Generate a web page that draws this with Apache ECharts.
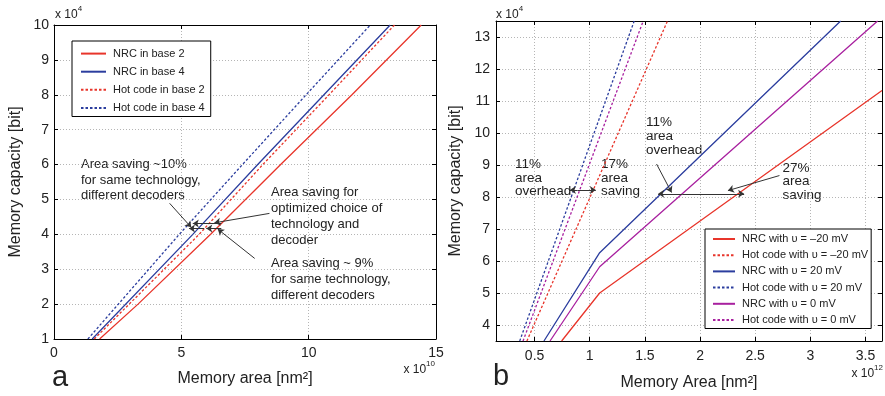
<!DOCTYPE html>
<html>
<head>
<meta charset="utf-8">
<script src="https://cdn.jsdelivr.net/npm/echarts@6/dist/echarts.min.js"></script>
<style>
html,body{margin:0;padding:0;background:#fff;}
#chart{width:885px;height:396px;}
</style>
</head>
<body>
<div id="chart"></div>
<script>
// ---------- Data: panel a ----------
const leftNames = ['NRC in base 2', 'NRC in base 4', 'Hot code in base 2', 'Hot code in base 4'];
const nrcBase2 = [[1.79, 1], [3.3, 2], [6.15, 4], [8.9, 6], [11.7, 8], [14.42, 10]];
const nrcBase4 = [[1.5, 1], [5.45, 4], [8.0, 6], [10.6, 8], [13.2, 10]];
const hotBase2 = [[1.58, 1], [5.7, 4], [8.2, 6], [10.8, 8], [13.37, 10]];
const hotBase4 = [[1.33, 1], [4.92, 4], [7.4, 6], [9.9, 8], [12.42, 10]];
const leftXTicks = [0, 5, 10, 15];
const leftYTicks = [1, 2, 3, 4, 5, 6, 7, 8, 9, 10];

// ---------- Data: panel b ----------
const rightNames = ['NRC with \u03c5 = \u201320 mV', 'Hot code with \u03c5 = \u201320 mV',
  'NRC with \u03c5 = 20 mV', 'Hot code with \u03c5 = 20 mV',
  'NRC with \u03c5 = 0 mV', 'Hot code with \u03c5 = 0 mV'];
const nrcM20 = [[0.745, 3.5], [1.09, 5.0], [3.65, 11.33]];
const hotM20 = [[0.43, 3.5], [1.705, 13.5]];
const nrcP20 = [[0.585, 3.5], [1.09, 6.26], [3.275, 13.5]];
const hotP20 = [[0.365, 3.5], [1.403, 13.5]];
const nrc0 = [[0.64, 3.5], [1.09, 5.82], [3.61, 13.5]];
const hot0 = [[0.395, 3.5], [1.485, 13.5]];
const rightXRange = [0.15, 3.65];
const rightYRange = [3.5, 13.5];

// ---------- Annotation arrows (data coordinates) ----------
const leftArrows = [
  [[6.57, 4.31], [5.45, 4.31]],
  [[5.9, 4.17], [5.3, 4.17]],
  [[6.57, 4.17], [5.98, 4.17]],
  [[4.54, 4.89], [5.39, 4.2]],
  [[8.46, 4.6], [6.3, 4.33]],
  [[7.88, 3.31], [6.43, 4.15]]
];
const rightArrows = [
  [[0.89, 8.22], [0.82, 8.22]],
  [[0.89, 8.22], [1.055, 8.22]],
  [[1.84, 8.1], [1.62, 8.1]],
  [[1.84, 8.1], [2.40, 8.1]],
  [[1.606, 9.03], [1.742, 8.14]],
  [[2.72, 8.67], [2.253, 8.2]]
];

const FONT = '"Liberation Sans", Arial, Helvetica, sans-serif';
const RED = '#e8352b', BLUE = '#2b3d9e', MAG = '#a8209f';
const TXT = '#222';

const chart = echarts.init(document.getElementById('chart'), null, {renderer: 'canvas'});

function lineSeries(name, data, color, dashed, gi) {
  return {
    name: name, type: 'line', data: data, xAxisIndex: gi * 2, yAxisIndex: gi * 2,
    symbol: 'none', showSymbol: false, silent: true, animation: false,
    lineStyle: {color: color, width: 1.3, type: dashed ? [2.5, 2] : 'solid'},
    itemStyle: {color: color}
  };
}
function arrowSeries(arrows, gi) {
  return {
    type: 'line', data: [], xAxisIndex: gi * 2, yAxisIndex: gi * 2, silent: true, animation: false,
    markLine: {
      silent: true, animation: false, symbol: ['none', 'arrow'], symbolSize: 6,
      label: {show: false}, lineStyle: {color: '#333', width: 1, type: 'solid'},
      emphasis: {disabled: true},
      data: arrows.map(a => [{coord: a[0]}, {coord: a[1]}])
    }
  };
}
const gridLine = {show: true, lineStyle: {color: '#b5b5b5', type: [1, 2], width: 1}};
const axLine = {show: true, onZero: false, lineStyle: {color: '#000', width: 1}};
const tick = {show: true, inside: true, length: 4, lineStyle: {color: '#000'}};
const lbl = (m) => ({show: true, fontSize: 14, color: TXT, fontFamily: FONT, margin: m});

function isMult(v, step) { return Math.abs(v / step - Math.round(v / step)) < 1e-6; }

const xAxes = [
  {gridIndex: 0, type: 'value', min: leftXTicks[0], max: leftXTicks[leftXTicks.length - 1], interval: 5,
   axisLine: axLine, axisTick: tick, splitLine: gridLine, axisLabel: lbl(7),
   name: 'Memory area [nm\u00b2]', nameLocation: 'middle', nameGap: 32,
   nameTextStyle: {fontSize: 16, color: TXT, fontFamily: FONT}},
  {gridIndex: 0, type: 'value', position: 'top', min: 0, max: 15, interval: 5,
   axisLine: axLine, axisTick: tick, splitLine: {show: false}, axisLabel: {show: false}},
  {gridIndex: 1, type: 'value', min: rightXRange[0], max: rightXRange[1], splitNumber: 7,
   axisLine: axLine, axisTick: tick, splitLine: gridLine,
   axisLabel: Object.assign(lbl(8), {formatter: v => isMult(v, 0.5) ? String(+v.toFixed(1)) : ''}),
   name: 'Memory Area [nm\u00b2]', nameLocation: 'middle', nameGap: 34,
   nameTextStyle: {fontSize: 16, color: TXT, fontFamily: FONT}},
  {gridIndex: 1, type: 'value', position: 'top', min: rightXRange[0], max: rightXRange[1], splitNumber: 7,
   axisLine: axLine, axisTick: tick, splitLine: {show: false}, axisLabel: {show: false}}
];
const yAxes = [
  {gridIndex: 0, type: 'value', min: leftYTicks[0], max: leftYTicks[leftYTicks.length - 1], interval: 1,
   axisLine: axLine, axisTick: tick, splitLine: gridLine, axisLabel: lbl(5),
   name: 'Memory capacity [bit]', nameLocation: 'middle', nameGap: 30,
   nameTextStyle: {fontSize: 16, color: TXT, fontFamily: FONT}},
  {gridIndex: 0, type: 'value', position: 'right', min: 1, max: 10, interval: 1,
   axisLine: axLine, axisTick: tick, splitLine: {show: false}, axisLabel: {show: false}},
  {gridIndex: 1, type: 'value', min: rightYRange[0], max: rightYRange[1], splitNumber: 10,
   axisLine: axLine, axisTick: tick, splitLine: gridLine,
   axisLabel: Object.assign(lbl(6), {formatter: v => isMult(v, 1) ? String(Math.round(v)) : ''}),
   name: 'Memory capacity [bit]', nameLocation: 'middle', nameGap: 32,
   nameTextStyle: {fontSize: 16, color: TXT, fontFamily: FONT}},
  {gridIndex: 1, type: 'value', position: 'right', min: rightYRange[0], max: rightYRange[1], splitNumber: 10,
   axisLine: axLine, axisTick: tick, splitLine: {show: false}, axisLabel: {show: false}}
];

const series = [
  lineSeries(leftNames[0], nrcBase2, RED, false, 0),
  lineSeries(leftNames[1], nrcBase4, BLUE, false, 0),
  lineSeries(leftNames[2], hotBase2, RED, true, 0),
  lineSeries(leftNames[3], hotBase4, BLUE, true, 0),
  lineSeries(rightNames[0], nrcM20, RED, false, 1),
  lineSeries(rightNames[1], hotM20, RED, true, 1),
  lineSeries(rightNames[2], nrcP20, BLUE, false, 1),
  lineSeries(rightNames[3], hotP20, BLUE, true, 1),
  lineSeries(rightNames[4], nrc0, MAG, false, 1),
  lineSeries(rightNames[5], hot0, MAG, true, 1),
  arrowSeries(leftArrows, 0),
  arrowSeries(rightArrows, 1)
];

function txt(x, y, text, size, lh) {
  return {type: 'text', x: x, y: y, silent: true,
    style: {text: text, fontSize: size, fontFamily: FONT, fill: TXT, lineHeight: lh, verticalAlign: 'top', align: 'left'}};
}
function expo(x, y, base, exp, align) {
  return {type: 'text', x: x, y: y, silent: true,
    style: {text: '{a|' + base + '}{s|' + exp + '}', align: align || 'left', verticalAlign: 'top', fill: TXT,
      rich: {a: {fontSize: 12, fontFamily: FONT, fill: TXT, lineHeight: 16, verticalAlign: 'bottom'},
             s: {fontSize: 8, fontFamily: FONT, fill: TXT, lineHeight: 16, verticalAlign: 'top'}}}};
}

const legendBase = {
  orient: 'vertical', backgroundColor: '#fff', borderColor: '#000', borderWidth: 1,
  selectedMode: false,
  itemStyle: {color: 'rgba(0,0,0,0)', borderColor: 'rgba(0,0,0,0)', borderWidth: 0, opacity: 0},
  textStyle: {fontSize: 11, color: TXT, fontFamily: FONT, padding: [0, 0, 0, 2]}
};

chart.setOption({
  animation: false,
  backgroundColor: '#fff',
  grid: [
    {left: 54, top: 25, right: 449, bottom: 57, containLabel: false},
    {left: 496, top: 21, right: 3, bottom: 53, containLabel: false}
  ],
  xAxis: xAxes,
  yAxis: yAxes,
  legend: [
    Object.assign({}, legendBase, {data: leftNames, left: 72, top: 41, itemWidth: 25, itemHeight: 14, itemGap: 6.9,
      padding: [7, 6, 3, 8]}),
    Object.assign({}, legendBase, {data: rightNames, left: 705, top: 229, itemWidth: 22, itemHeight: 12, itemGap: 5.2,
      padding: [4.5, 3, 3, 7]})
  ],
  series: series,
  graphic: [
    txt(81, 157, 'Area saving ~10%\nfor same technology,\ndifferent decoders', 13, 15.5),
    txt(271, 185, 'Area saving for\noptimized choice of\ntechnology and\ndecoder', 13, 15.7),
    txt(271, 255.5, 'Area saving ~ 9%\nfor same technology,\ndifferent decoders', 13, 15.8),
    txt(515, 158, '11%\narea\noverhead', 13.5, 13.5),
    txt(601, 158, '17%\narea\nsaving', 13.5, 13.5),
    txt(646, 115.5, '11%\narea\noverhead', 13.5, 13.8),
    txt(782.5, 161.5, '27%\narea\nsaving', 13.5, 13.5),
    expo(55, 5, 'x 10', '4'),
    expo(496, 5, 'x 10', '4'),
    expo(435, 360, 'x 10', '10', 'right'),
    expo(883, 364, 'x 10', '12', 'right'),
    txt(52, 363, 'a', 29, 30),
    txt(493, 362, 'b', 29, 30)
  ]
});
</script>
</body>
</html>
